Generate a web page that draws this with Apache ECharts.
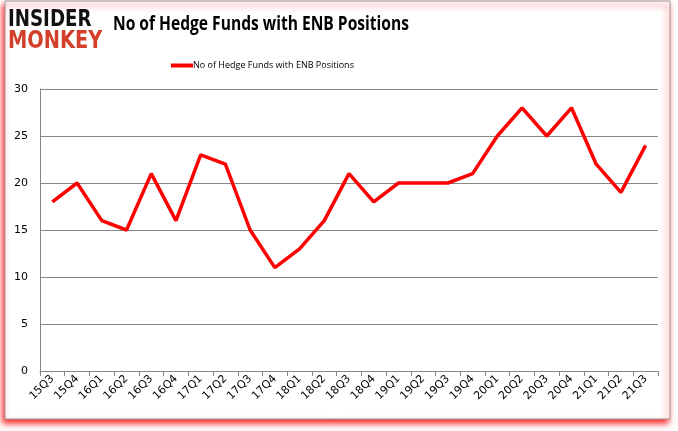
<!DOCTYPE html>
<html>
<head>
<meta charset="utf-8">
<script src="https://cdn.jsdelivr.net/npm/echarts@6/dist/echarts.min.js"></script>
<style>
html,body{margin:0;padding:0;background:#fff;}
#main{width:678px;height:431px;}
</style>
</head>
<body>
<div id="main"></div>
<script>
var categories=['15Q3','15Q4','16Q1','16Q2','16Q3','16Q4','17Q1','17Q2','17Q3','17Q4','18Q1','18Q2','18Q3','18Q4','19Q1','19Q2','19Q3','19Q4','20Q1','20Q2','20Q3','20Q4','21Q1','21Q2','21Q3'];
var hedgeFunds=[18,20,16,15,21,16,23,22,15,11,13,16,21,18,20,20,20,21,25,28,25,28,22,19,24];
var seriesName='No of Hedge Funds with ENB Positions';

var chart=echarts.init(document.getElementById('main'),null,{renderer:'canvas'});
var option={
  animation:false,
  backgroundColor:'#fff',
  graphic:[
    {type:'rect',shape:{x:5,y:1,width:665,height:418},z:-10,
      style:{fill:'#fff',stroke:'#9a9a9a',lineWidth:1,shadowColor:'rgba(255,0,0,0.85)',shadowBlur:6,shadowOffsetX:-2,shadowOffsetY:4}},
    // logo
    {type:'text',x:8,y:8,scaleX:0.92,scaleY:1.05,z:10,
      style:{text:'INSIDER',font:'900 22px "DejaVu Sans Condensed"',fill:'#111'}},
    {type:'text',x:8,y:30,scaleX:0.98,scaleY:1.1,z:10,
      style:{text:'MONKEY',font:'900 22px "DejaVu Sans Condensed"',fill:'#d2402c'}},
    // title
    {type:'text',x:113,y:15,scaleX:0.82,z:10,
      style:{text:'No of Hedge Funds with ENB Positions',font:'bold 19px "Open Sans"',fill:'#000'}}
  ],
  legend:{
    data:[seriesName],
    top:56,
    left:166,
    itemWidth:22,
    itemHeight:4,
    itemGap:0,
    icon:'rect',
    textStyle:{fontFamily:'Open Sans',fontSize:9,color:'#000',padding:[0,0,0,-5]}
  },
  grid:{left:40,right:20,top:89,bottom:60,containLabel:false},
  xAxis:{
    type:'category',
    data:categories,
    boundaryGap:true,
    axisLine:{lineStyle:{color:'#868686'}},
    axisTick:{show:true,alignWithLabel:false,length:5,lineStyle:{color:'#868686'}},
    axisLabel:{rotate:45,interval:0,fontFamily:'DejaVu Sans',fontSize:11,color:'#000',margin:6}
  },
  yAxis:{
    type:'value',
    min:0,max:30,interval:5,
    axisLine:{show:true,lineStyle:{color:'#868686'}},
    axisTick:{show:false},
    axisLabel:{fontFamily:'DejaVu Sans',fontSize:11,color:'#000',margin:12},
    splitLine:{lineStyle:{color:'#868686',width:1}}
  },
  series:[{
    name:seriesName,
    type:'line',
    data:hedgeFunds,
    symbol:'none',
    lineStyle:{color:'#ff0000',width:3.5},
    itemStyle:{color:'#ff0000'}
  }]
};
chart.setOption(option);
</script>
</body>
</html>
